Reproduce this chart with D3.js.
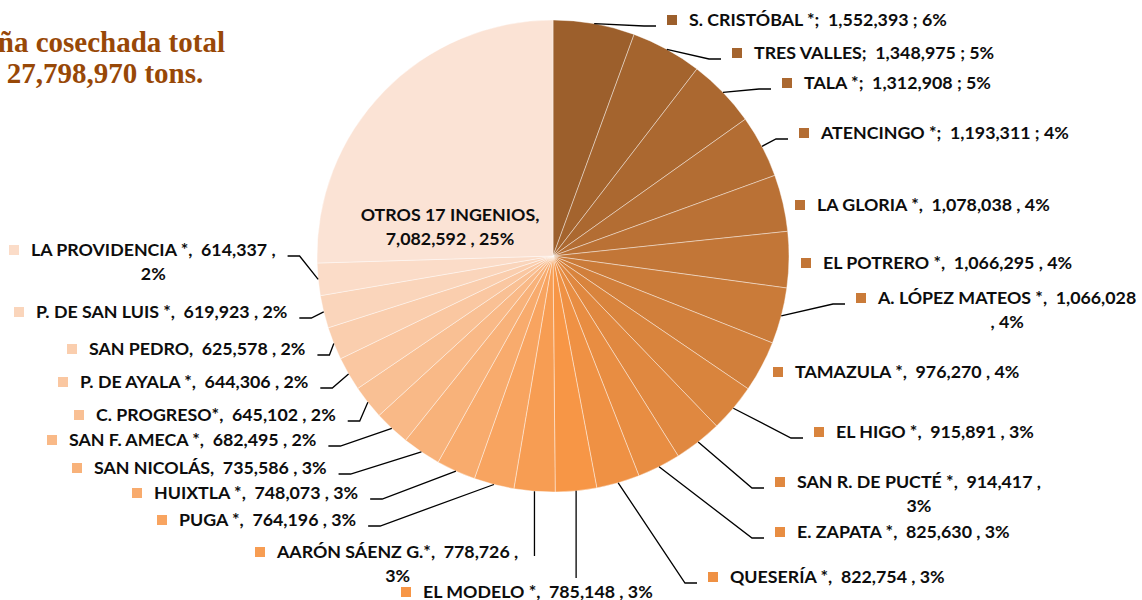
<!DOCTYPE html>
<html lang="es">
<head>
<meta charset="UTF-8">
<title>Caña cosechada por ingenio</title>
<script src="https://cdnjs.cloudflare.com/ajax/libs/d3/7.8.5/d3.min.js"></script>
<style>
  body { margin: 0; background: #fff; }
  svg { display: block; }
  .lbl { font-family: Lato, "Open Sans", sans-serif; font-weight: 700; font-size: 17.8px; fill: #0d0d0d; white-space: pre; }
  .titulo { font-family: "Liberation Serif", "Times New Roman", serif; font-weight: 700; font-size: 29px; fill: #984807; }
</style>
</head>
<body>
<div id="chart"></div>
<script>
// ingenios, en el orden del pastel (desde las 12, sentido horario)
const ingenios = [
  "S. CRISTÓBAL *", "TRES VALLES", "TALA *", "ATENCINGO *", "LA GLORIA *",
  "EL POTRERO *", "A. LÓPEZ MATEOS *", "TAMAZULA *", "EL HIGO *", "SAN R. DE PUCTÉ *",
  "E. ZAPATA *", "QUESERÍA *", "EL MODELO *", "AARÓN SÁENZ G.*", "PUGA *",
  "HUIXTLA *", "SAN NICOLÁS", "SAN F. AMECA *", "C. PROGRESO*", "P. DE AYALA *",
  "SAN PEDRO", "P. DE SAN LUIS *", "LA PROVIDENCIA *", "OTROS 17 INGENIOS"
];
// toneladas de caña cosechada
const toneladas = [
  1552393, 1348975, 1312908, 1193311, 1078038,
  1066295, 1066028, 976270, 915891, 914417,
  825630, 822754, 785148, 778726, 764196,
  748073, 735586, 682495, 645102, 644306,
  625578, 619923, 614337, 7082592
];
// separador que usa cada etiqueta
const separador = [";", ";", ";", ";", ",", ",", ",", ",", ",", ",", ",", ",",
  ",", ",", ",", ",", ",", ",", ",", ",", ",", ",", ",", ","];
const titulo = ["Caña cosechada total", "27,798,970 tons."];

// colocación de etiquetas: [x del cuadrito, y centro de la 1a línea, guía, corte de línea]
const labelPos = [
  [667, 20, "R", ""], [732, 53, "R", ""], [782, 83, "R", ""], [799, 133, "R", ""],
  [795, 205, "", ""], [801, 263, "", ""], [856, 298, "R", "valor"], [773, 372, "", ""],
  [814, 432, "R", ""], [775, 482, "R", "pct"], [775, 532, "R", ""], [708, 577, "R", ""],
  [401, 592, "V", ""], [255, 552, "V", "pct"], [157, 520, "L", ""], [132, 493, "L", ""],
  [72, 468, "L", ""], [47, 440, "L", ""], [74, 415, "L", ""], [58, 382, "L", ""],
  [67, 349, "L", ""], [14, 312, "L", ""], [9, 250, "L", "pct"], [450, 215, "in", "nombre"]
];

const width = 1142, height = 600;
const cx = 553, cy = 256, radius = 236;
const lineH = 24;

const total = d3.sum(toneladas);
const fmt = d3.format(",");

const color = d3.scaleLinear()
  .domain([0, 12, ingenios.length - 1])
  .range(["#9c5f2c", "#f79646", "#fbe3d5"])
  .interpolate(d3.interpolateRgb);

const svg = d3.select("#chart").append("svg")
  .attr("width", width)
  .attr("height", height);

// titulo (cortado a la izquierda como en el original)
svg.append("text").attr("class", "titulo")
  .attr("x", 225).attr("y", 52).attr("text-anchor", "end")
  .text(titulo[0]);
svg.append("text").attr("class", "titulo")
  .attr("x", 105).attr("y", 83).attr("text-anchor", "middle")
  .text(titulo[1]);

const pie = d3.pie().sort(null).value(d => d);
const arcs = pie(toneladas);

const arc = d3.arc().innerRadius(0).outerRadius(radius);
const edge = d3.arc().innerRadius(radius).outerRadius(radius);

const g = svg.append("g").attr("transform", `translate(${cx},${cy})`);

g.selectAll("path")
  .data(arcs)
  .join("path")
  .attr("d", arc)
  .attr("fill", (d, i) => color(i))
  .attr("stroke", "#ffffff")
  .attr("stroke-opacity", 0.55)
  .attr("stroke-width", 0.75);

// etiquetas
const labels = svg.append("g");
const leaders = svg.append("g");

arcs.forEach((d, i) => {
  const [x, y, guia, corte] = labelPos[i];
  const sep = separador[i];
  const val = fmt(toneladas[i]);
  const pct = Math.round(toneladas[i] / total * 100) + "%";
  let l1, l2 = null;
  if (corte === "pct") { l1 = `${ingenios[i]}${sep}  ${val} ${sep}`; l2 = pct; }
  else if (corte === "valor") { l1 = `${ingenios[i]}${sep}  ${val}`; l2 = `${sep} ${pct}`; }
  else if (corte === "nombre") { l1 = `${ingenios[i]}${sep}`; l2 = `${val} ${sep} ${pct}`; }
  else { l1 = `${ingenios[i]}${sep}  ${val} ${sep} ${pct}`; }

  if (guia === "in") {
    labels.append("text").attr("class", "lbl")
      .attr("x", x).attr("y", y + 6).attr("text-anchor", "middle").text(l1);
    labels.append("text").attr("class", "lbl")
      .attr("x", x).attr("y", y + 6 + lineH).attr("text-anchor", "middle").text(l2);
    return;
  }

  labels.append("rect")
    .attr("x", x).attr("y", y - 5)
    .attr("width", 10).attr("height", 10)
    .attr("fill", color(i));

  const t1 = labels.append("text").attr("class", "lbl")
    .attr("x", x + 22).attr("y", y + 6).text(l1);
  const w1 = t1.node().getComputedTextLength();
  if (l2) {
    labels.append("text").attr("class", "lbl")
      .attr("x", x + 22 + w1 / 2).attr("y", y + 6 + lineH)
      .attr("text-anchor", "middle").text(l2);
  }

  if (!guia) return;
  const c = edge.centroid(d);
  const s = [cx + c[0], cy + c[1]];
  let pts;
  if (guia === "R") {
    const e = [x - 11, y + 6];
    pts = [s, [e[0] - 12, e[1]], e];
  } else if (guia === "L") {
    const e = [x + 22 + w1 + 12, y + 6];
    pts = [s, [e[0] + 12, e[1]], e];
  } else {
    const inside = s[0] >= x && s[0] <= x + 22 + w1;
    pts = [s, [s[0], inside ? y - 14 : y + 4]];
  }
  leaders.append("path")
    .attr("d", d3.line()(pts))
    .attr("fill", "none")
    .attr("stroke", "#000")
    .attr("stroke-width", 1.3);
});
</script>
</body>
</html>
